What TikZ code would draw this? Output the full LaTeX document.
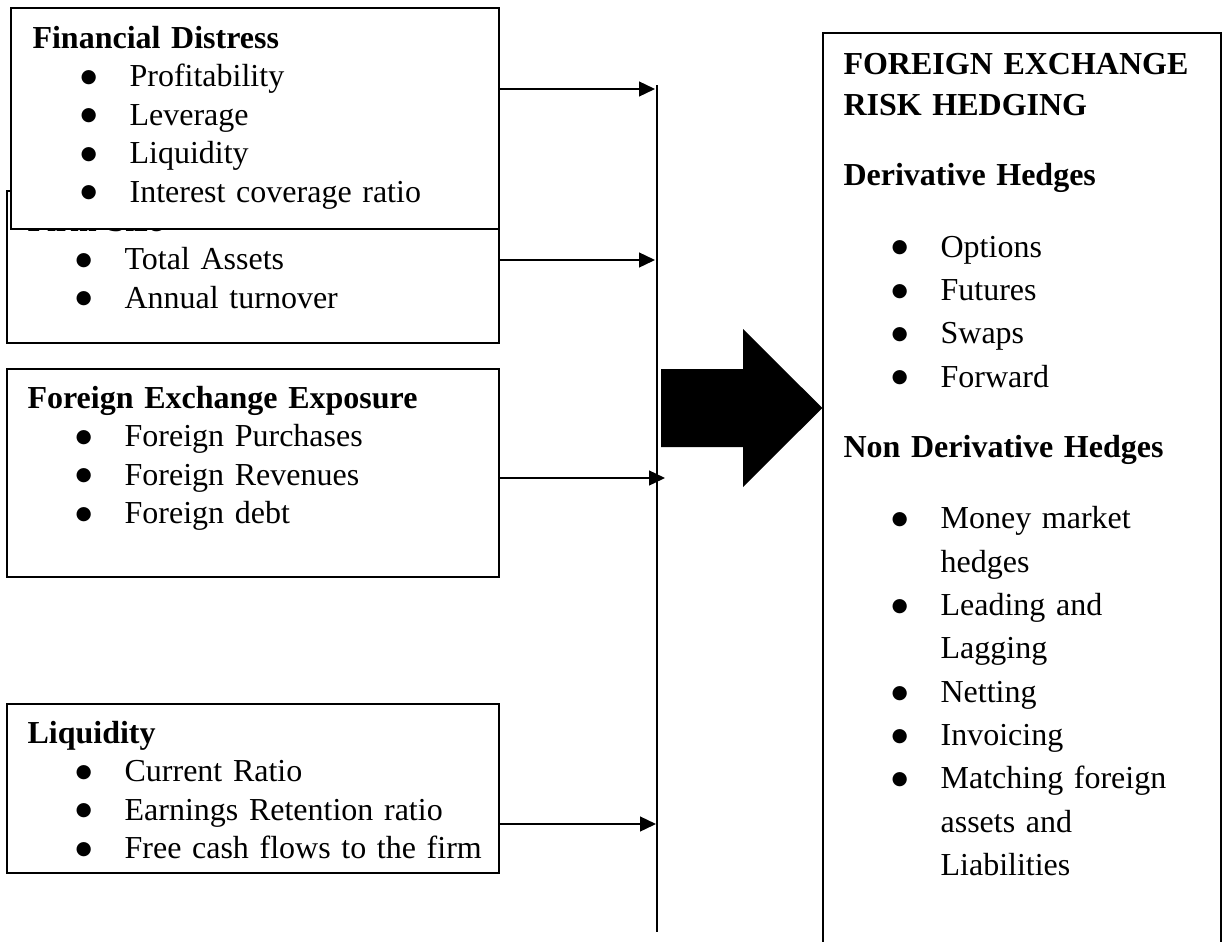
\documentclass[tikz,border=0pt]{standalone}
\usepackage{fontspec}
\setmainfont{Liberation Serif}
\newfontfamily\dotfont{DejaVu Sans}
\usepackage{tikz}
\usetikzlibrary{arrows.meta,fit,calc}
\newcommand{\bigbul}{\raisebox{1.6pt}{\dotfont\fontsize{7}{7}\selectfont ●}}
\newcommand{\bitem}[1]{\hspace*{18pt}\makebox[18.4pt][l]{\bigbul}#1}
\newcommand{\bcont}[1]{\hspace*{36.4pt}#1}
\tikzset{
  framebox/.style={draw=black,line width=0.5pt,inner sep=0pt,fill=white},
  listtext/.style={anchor=base west,inner sep=0pt,text width=180pt,align=left,font=\fontsize{12}{14.45}\selectfont},
  hedgetext/.style={anchor=base west,inner sep=0pt,text width=150pt,align=left,font=\fontsize{12}{16.25}\selectfont},
  busline/.style={draw=black,line width=0.55pt},
  busarrow/.style={-{Triangle[length=6pt,width=5.6pt]},draw=black,line width=0.6pt},
  bigarrow/.style={fill=black}
}
\begin{document}
\begin{tikzpicture}[x=0.375pt,y=-0.375pt]
\useasboundingbox (0,0) rectangle (1225,942);
% determinant boxes
\node[framebox,fit={(7,191)(499,343)}] (fs) {};
\node[listtext] (fstext) at (27,231) {\textbf{Firm Size}\\
  \bitem{Total Assets}\\
  \bitem{Annual turnover}};
\node[framebox,fit={(11,8)(499,229)}] (fd) {};
\node[listtext] (fdtext) at (32,48) {\textbf{Financial Distress}\\
  \bitem{Profitability}\\
  \bitem{Leverage}\\
  \bitem{Liquidity}\\
  \bitem{Interest coverage ratio}};
\node[framebox,fit={(7,369)(499,577)}] (fee) {};
\node[listtext] (feetext) at (27,408) {\textbf{Foreign Exchange Exposure}\\
  \bitem{Foreign Purchases}\\
  \bitem{Foreign Revenues}\\
  \bitem{Foreign debt}};
\node[framebox,fit={(7,704)(499,873)}] (liq) {};
\node[listtext] (liqtext) at (27,743) {\textbf{Liquidity}\\
  \bitem{Current Ratio}\\
  \bitem{Earnings Retention ratio}\\
  \bitem{Free cash flows to the firm}};
% outcome box
\node[framebox,fit={(823,33)(1221,990)}] (hedge) {};
\node[hedgetext] (hedgetxt) at (843,74) {\textbf{FOREIGN EXCHANGE}\\[-0.8pt]
  \textbf{RISK HEDGING}\\[10pt]
  \textbf{Derivative Hedges}\\[10.7pt]
  \bitem{Options}\\
  \bitem{Futures}\\
  \bitem{Swaps}\\
  \bitem{Forward}\\[10pt]
  \textbf{Non Derivative Hedges}\\[10.7pt]
  \bitem{Money market}\\
  \bcont{hedges}\\
  \bitem{Leading and}\\
  \bcont{Lagging}\\
  \bitem{Netting}\\
  \bitem{Invoicing}\\
  \bitem{Matching foreign}\\
  \bcont{assets and}\\
  \bcont{Liabilities}};
% collecting line
\coordinate (bustop) at (657,85);
\coordinate (busbot) at (657,932);
\coordinate (b1) at (655,89);
\coordinate (b2) at (655,260);
\coordinate (b3) at (665,478);
\coordinate (b4) at (656,824);
\draw[busline] (bustop) -- (busbot);
\foreach \src/\dst in {fd/b1,fs/b2,fee/b3,liq/b4}{\draw[busarrow] (\src.east |- \dst) -- (\dst);}
% block arrow into the hedging box
\coordinate (tip) at (hedge.west |- 0,408);
\fill[bigarrow] (661,369) -- (743,369) -- (743,329) -- (tip) -- (743,487) -- (743,447) -- (661,447) -- cycle;
\end{tikzpicture}
\end{document}
